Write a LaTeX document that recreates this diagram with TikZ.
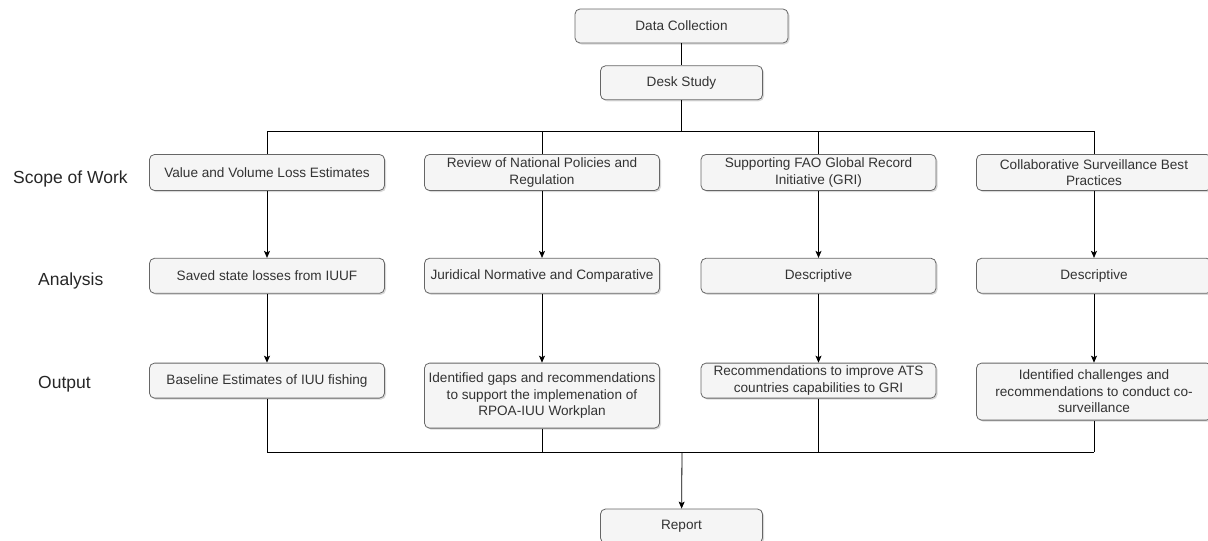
\documentclass[tikz,border=0pt]{standalone}
\usepackage{fontspec}
\setmainfont{Liberation Sans}
\usetikzlibrary{arrows.meta, positioning, shadows}
\definecolor{boxFill}{HTML}{F5F5F5}
\definecolor{boxLine}{HTML}{666666}
\definecolor{boxText}{HTML}{333333}

\begin{document}
\begin{tikzpicture}[x=1pt, y=-1pt]
		\tikzstyle{StepBox} = [rectangle, rounded corners=5pt, minimum width=235pt, minimum height=36pt, inner sep=2pt, align=center, text=boxText, draw=boxLine, line width=0.8pt, fill=boxFill, drop shadow={shadow xshift=1.5pt, shadow yshift=-1.5pt, opacity=0.3, fill=gray}, font=\fontsize{13.6pt}{16.5pt}\selectfont]
		\tikzstyle{RowName} = [font=\fontsize{17.5pt}{20pt}\selectfont, text=black!85, inner sep=0pt, anchor=base west]
		\tikzstyle{line} = [line width=0.8pt]
		\tikzstyle{arrow} = [line width=0.8pt, -{Stealth[length=7pt, width=6pt, inset=1.5pt]}]
		
		\useasboundingbox (0,0) rectangle (1208,541);
		
		\node (dataCollection) [StepBox, minimum width=213pt, minimum height=34pt] at (681.5,26) {Data Collection};
		\node (deskStudy) [StepBox, minimum width=162pt, minimum height=34pt, below = 22pt of dataCollection] {Desk Study};
		
		\node (scopeValue) [StepBox] at (267,172.5) {Value and Volume Loss Estimates};
		\node (scopeReview) [StepBox] at (542,172.5) {Review of National Policies and\\Regulation};
		\node (scopeGri) [StepBox] at (818.5,172.5) {Supporting FAO Global Record\\Initiative (GRI)};
		\node (scopeSurv) [StepBox] at (1094,172.5) {Collaborative Surveillance Best\\Practices};
		
		\node (anaValue) [StepBox, minimum height=35pt, below = 67pt of scopeValue] {Saved state losses from IUUF};
		\node (anaReview) [StepBox, minimum height=35pt, below = 67pt of scopeReview] {Juridical Normative and Comparative};
		\node (anaGri) [StepBox, minimum height=35pt, below = 67pt of scopeGri] {Descriptive};
		\node (anaSurv) [StepBox, minimum height=35pt, below = 67pt of scopeSurv] {Descriptive};
		
		\node (outValue) [StepBox, minimum height=35pt, below = 69pt of anaValue] {Baseline Estimates of IUU fishing};
		\node (outReview) [StepBox, minimum height=65pt, below = 69pt of anaReview] {Identified gaps and recommendations\\to support the implemenation of\\RPOA-IUU Workplan};
		\node (outGri) [StepBox, minimum height=35pt, below = 69pt of anaGri] {Recommendations to improve ATS\\countries capabilities to GRI};
		\node (outSurv) [StepBox, minimum height=57pt, below = 69pt of anaSurv] {Identified challenges and\\recommendations to conduct co-\\surveillance};
		
		\coordinate (split) at (681.5,131);
		\coordinate (merge) at (682,452);
		\node (report) [StepBox, minimum width=162pt, minimum height=34pt] at (681.5,526) {Report};
		
		\node (rowScope) [RowName] at (13,183) {Scope of Work};
		\node (rowAnalysis) [RowName] at (38,285.5) {Analysis};
		\node (rowOutput) [RowName] at (38,388) {Output};
		
		\draw[line] (dataCollection) -- (deskStudy);
		\draw[line] (deskStudy) -- (split);
		\draw[line] (split -| scopeValue) -- (split -| scopeSurv);
		\foreach \col in {Value, Review, Gri, Surv} {
			\draw[line] (split -| scope\col) -- (scope\col);
			\draw[arrow] (scope\col) -- (ana\col);
			\draw[arrow] (ana\col) -- (out\col);
			\draw[line] (out\col) -- (merge -| out\col);
		}
		\draw[line] (merge -| outValue) -- (merge -| outSurv);
		\draw[arrow] (merge) -- (report);
\end{tikzpicture}
\end{document}
